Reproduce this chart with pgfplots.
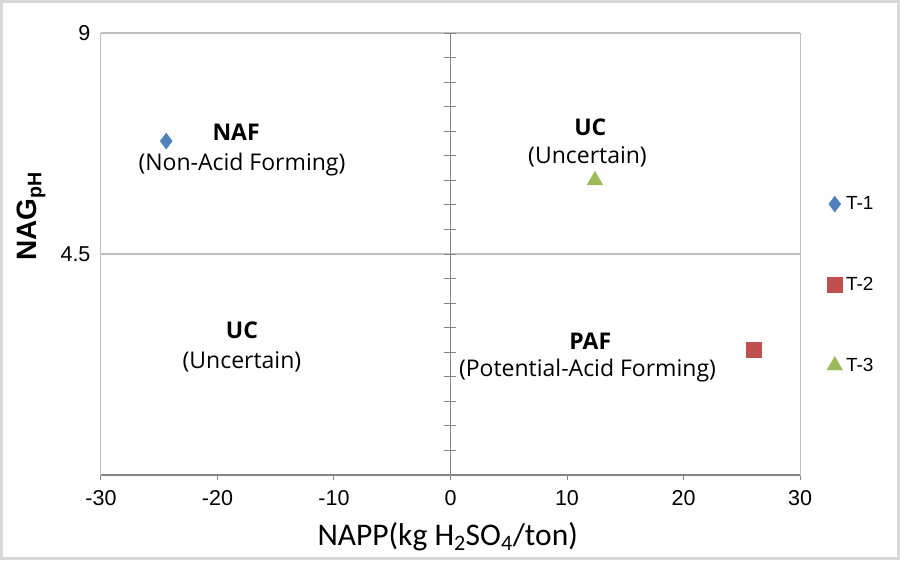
\documentclass[border=0pt]{standalone}
\usepackage{pgfplots}
\pgfplotsset{compat=1.18}
\usepackage{fontspec}
\setmainfont{Open Sans}
\newfontfamily\calfont{Carlito}
\newfontfamily\arfont{Liberation Sans}
\definecolor{tone1}{HTML}{4F81BD}
\definecolor{tone2}{HTML}{C0504D}
\definecolor{tone3}{HTML}{9BBB59}
\definecolor{axgray}{HTML}{868686}
\definecolor{lgray}{HTML}{BFBFBF}
\definecolor{outgray}{HTML}{D9D9D9}
\begin{document}
\begin{tikzpicture}
\begin{axis}[
  scale only axis, width=699pt, height=442pt,
  xmin=-30, xmax=30, ymin=0, ymax=9,
  clip=false,
  /pgf/number format/assume math mode=true,
  axis line style={lgray, line width=1pt},
  xtick={-30,-20,...,30}, ytick={4.5,9},
  xtick pos=bottom, ytick pos=left,
  tick align=outside,
  xtick style={axgray, line width=1pt}, major tick length=5pt,
  ytick style={draw=none},
  ymajorgrids, grid style={lgray, line width=1.2pt},
  tick label style={font=\arfont\fontsize{21.5}{21.5}\selectfont},
  yticklabel style={xshift=-2pt},
  xticklabel style={yshift=-7pt},
  xlabel={NAPP(kg H\textsubscript{2}SO\textsubscript{4}/ton)},
  xlabel style={font=\calfont\fontsize{31.5}{31.5}\selectfont, at={(axis description cs:0.496,-0.139)}, anchor=center},
  ylabel={NAG\textsubscript{pH}},
  ylabel style={font=\arfont\bfseries\fontsize{28}{28}\selectfont, at={(axis description cs:-0.100,0.585)}, anchor=center, rotate=0},
  legend style={draw=none, fill=none, at={(axis description cs:1.034,0.639)}, anchor=north west, row sep=62pt, font=\arfont\fontsize{19}{19}\selectfont, legend cell align=left,
    nodes={inner xsep=3.5pt}},
  legend image code/.code={\draw[#1] plot coordinates {(0.2cm,0cm)};},
]
% axis lines
\addplot[axgray, line width=1.2pt, forget plot] coordinates {(-30,0) (30,0)};
\addplot[axgray, line width=1.2pt, forget plot] coordinates {(0,-0.1) (0,9)};
\addplot[only marks, mark=-, mark size=6pt, mark options={axgray, line width=1pt}, forget plot] coordinates {
(0,0.5)(0,1)(0,1.5)(0,2)(0,2.5)(0,3)(0,3.5)(0,4)(0,4.5)(0,5)(0,5.5)(0,6)(0,6.5)(0,7)(0,7.5)(0,8)(0,8.5)(0,9)};
% data
\addplot[only marks, mark=diamond*, mark size=8pt, mark options={tone1, draw=tone1}] coordinates {(-24.4,6.8)};
\addlegendentry{T-1}
\addplot[only marks, mark=square*, mark size=7.5pt, mark options={tone2, draw=tone2}] coordinates {(26.0,2.55)};
\addlegendentry{T-2}
\addplot[only marks, mark=triangle*, mark size=9pt, mark options={tone3, draw=tone3}] coordinates {(12.4,6.0)};
\addlegendentry{T-3}
% quadrant labels
\node[font=\bfseries\fontsize{23}{23}\selectfont] at (axis cs:-18.4,6.97) {NAF};
\node[font=\fontsize{23}{23}\selectfont] at (axis cs:-17.9,6.33) {(Non-Acid Forming)};
\node[font=\bfseries\fontsize{23}{23}\selectfont] at (axis cs:12.0,7.09) {UC};
\node[font=\fontsize{23}{23}\selectfont] at (axis cs:11.76,6.48) {(Uncertain)};
\node[font=\bfseries\fontsize{23}{23}\selectfont] at (axis cs:-17.9,2.95) {UC};
\node[font=\fontsize{23}{23}\selectfont] at (axis cs:-17.9,2.30) {(Uncertain)};
\node[font=\bfseries\fontsize{23}{23}\selectfont] at (axis cs:12.0,2.73) {PAF};
\node[font=\fontsize{23}{23}\selectfont] at (axis cs:11.76,2.12) {(Potential-Acid Forming)};
% outer frame
\draw[outgray, line width=3pt] (rel axis cs:-0.1423,-0.1889) rectangle (rel axis cs:1.1409,1.0713);
\end{axis}
\end{tikzpicture}
\end{document}
